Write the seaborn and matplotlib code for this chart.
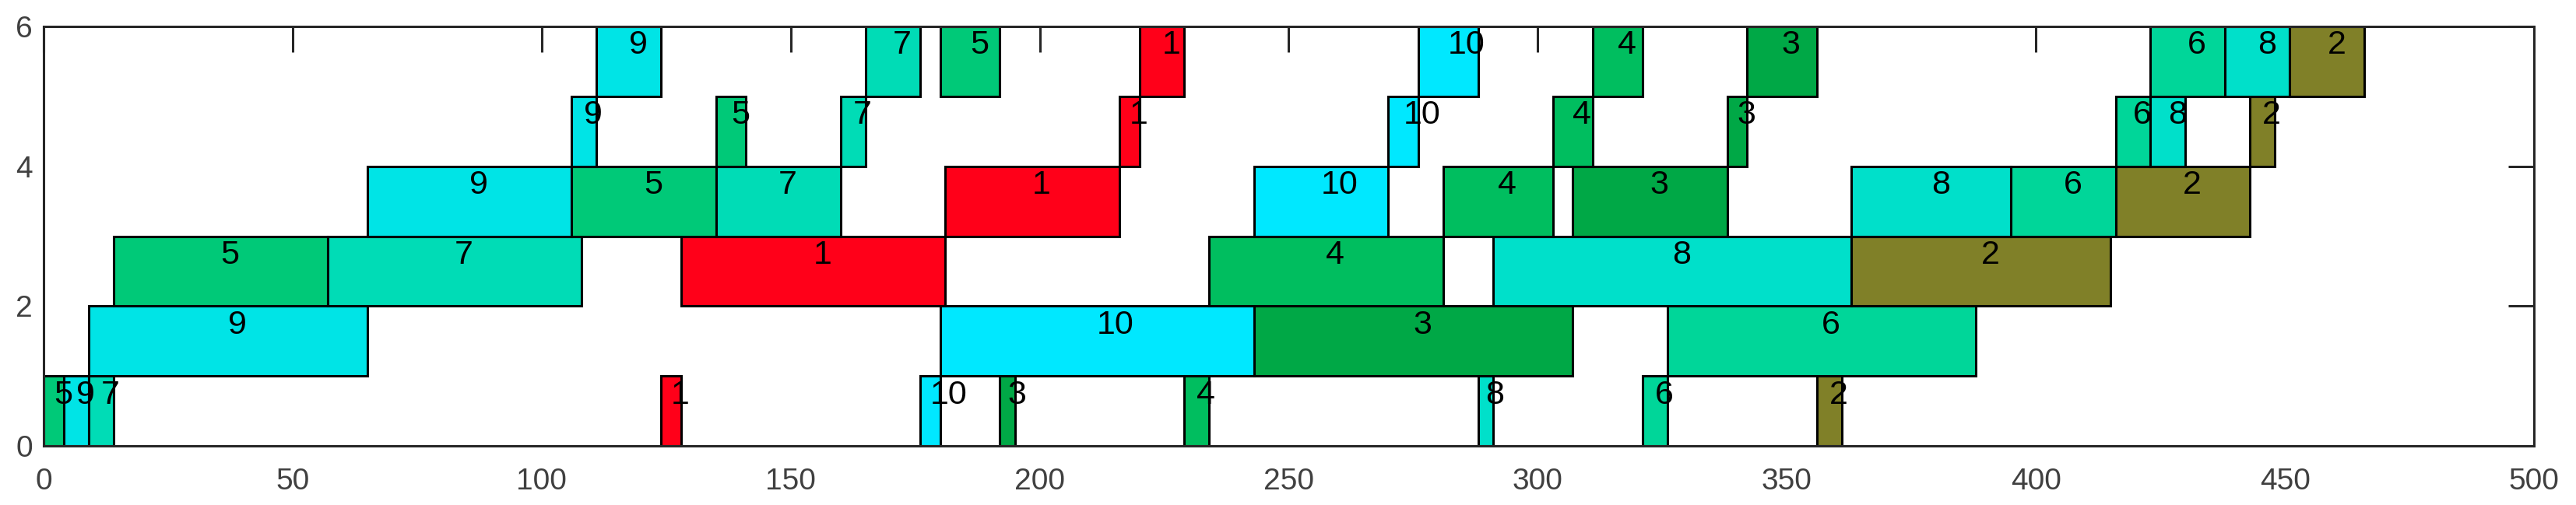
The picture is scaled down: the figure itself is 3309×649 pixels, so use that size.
#Gantt chart of a flow shop schedule (6 machines, 10 jobs)

#Import Necessary Libraries
import pandas as pd
import seaborn as sns
from matplotlib import pyplot as plt

#Data Creation
machine = [0]*10 + [1]*4 + [2]*6 + [3]*10 + [4]*10 + [5]*10
job = [5, 9, 7, 1, 10, 3, 4, 8, 6, 2,
       9, 10, 3, 6,
       5, 7, 1, 4, 8, 2,
       9, 5, 7, 1, 10, 4, 3, 8, 6, 2,
       9, 5, 7, 1, 10, 4, 3, 6, 8, 2,
       9, 7, 5, 1, 10, 4, 3, 6, 8, 2]
start = [0, 4, 9, 124, 176, 192, 229, 288, 321, 356,
         9, 180, 243, 326,
         14, 57, 128, 234, 291, 363,
         65, 106, 135, 181, 243, 281, 307, 363, 395, 416,
         106, 135, 160, 216, 270, 303, 338, 416, 423, 443,
         111, 165, 180, 220, 276, 311, 342, 423, 438, 451]
finish = [4, 9, 14, 128, 180, 195, 234, 291, 326, 361,
          65, 243, 307, 388,
          57, 108, 181, 281, 363, 415,
          106, 135, 160, 216, 270, 303, 338, 395, 416, 443,
          111, 141, 165, 220, 276, 311, 342, 423, 430, 448,
          124, 176, 192, 229, 288, 321, 356, 438, 451, 466]

job_ids = [1, 2, 3, 4, 5, 6, 7, 8, 9, 10]
job_colors = ['#FF0019', '#808028', '#00A846', '#00BE5F', '#00C978',
              '#00D699', '#00DCB6', '#00E0CA', '#00E4E6', '#00E8FF']
x_ticks = [0, 50, 100, 150, 200, 250, 300, 350, 400, 450, 500]
y_ticks = [0, 2, 4, 6]

#Creating DataFrame
sched = pd.DataFrame({'Machine': machine, 'Job': job, 'Start': start, 'End': finish})
sched['Duration'] = sched['End'] - sched['Start']
palette = dict(zip(job_ids, job_colors))

#Visualization
sns.set_style('white')
plt.rcParams['font.family'] = ['Liberation Sans', 'DejaVu Sans']
fig = plt.figure(figsize=(33.09, 6.49), dpi=100)
ax = fig.add_axes([0.01692, 0.11664, 0.96676, 0.83143])
ax.set_axisbelow(True)

for i, row in sched.iterrows():
    ax.barh(row['Machine'], row['Duration'], left=row['Start'], height=1, align='edge',
            color=palette[row['Job']], edgecolor='black', linewidth=2.2, zorder=2)
    ax.text(row['Start'] + row['Duration']/2, row['Machine'] + 0.73, str(row['Job']),
            ha='left', va='center', fontsize=31, color='black', zorder=3)

ax.set_xlim(0, 500)
ax.set_ylim(0, 6)
ax.set_xticks(x_ticks)
ax.set_yticks(y_ticks)
ax.tick_params(axis='both', direction='in', length=24, width=2.2, color='#262626',
               labelsize=28, labelcolor='#404040', top=True, right=True)
ax.tick_params(axis='x', pad=20)
ax.tick_params(axis='y', pad=10)
for s in ax.spines.values():
    s.set_color('#262626')
    s.set_linewidth(2.2)
    s.set_zorder(4)

#Save Plot
fig.savefig('out.png', dpi=100)
